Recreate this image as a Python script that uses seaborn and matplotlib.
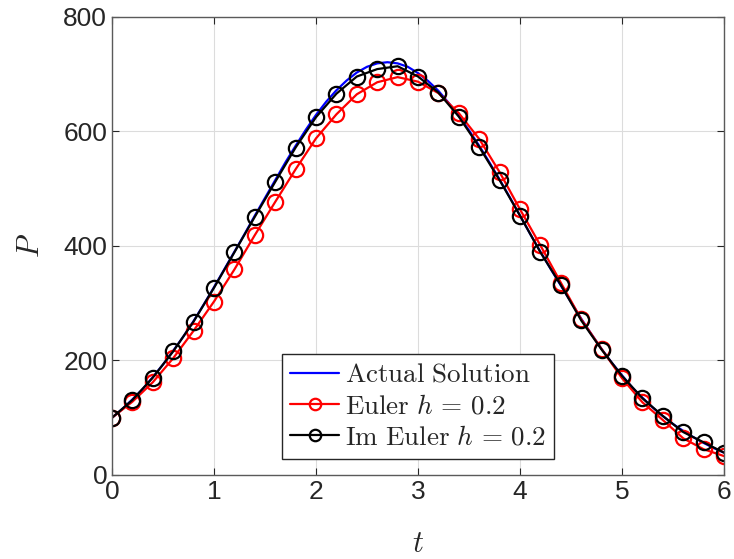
import numpy as np
import pandas as pd
import matplotlib
matplotlib.use("Agg")
import matplotlib.pyplot as plt
import seaborn as sns

# Actual solution
t_actual = [0.0, 0.1, 0.2, 0.3, 0.4, 0.5, 0.6, 0.7, 0.8, 0.9, 1.0, 1.1, 1.2, 1.3, 1.4, 1.5,
            1.6, 1.7, 1.8, 1.9, 2.0, 2.1, 2.2, 2.3, 2.4, 2.5, 2.6, 2.7, 2.8, 2.9, 3.0, 3.1,
            3.2, 3.3, 3.4, 3.5, 3.6, 3.7, 3.8, 3.9, 4.0, 4.1, 4.2, 4.3, 4.4, 4.5, 4.6, 4.7,
            4.8, 4.9, 5.0, 5.1, 5.2, 5.3, 5.4, 5.5, 5.6, 5.7, 5.8, 5.9, 6.0]
p_actual = [100, 115, 132, 150, 171, 193, 217, 242, 269, 298, 328, 359, 390, 421, 453, 484,
            515, 546, 575, 603, 629, 652, 672, 689, 703, 713, 719, 721, 719, 713, 702, 688,
            671, 650, 627, 602, 575, 546, 516, 485, 453, 421, 390, 360, 331, 302, 273, 246,
            220, 196, 174, 153, 135, 118, 103, 89, 77, 66, 56, 47, 39]

# Step points h = 0.2
t_steps = [0.0, 0.2, 0.4, 0.6, 0.8, 1.0, 1.2, 1.4, 1.6, 1.8, 2.0, 2.2, 2.4, 2.6, 2.8, 3.0,
           3.2, 3.4, 3.6, 3.8, 4.0, 4.2, 4.4, 4.6, 4.8, 5.0, 5.2, 5.4, 5.6, 5.8, 6.0]
p_euler = [100, 128, 162, 204, 252, 303, 359, 419, 477, 534, 588, 630, 665, 686, 695, 687,
           667, 632, 587, 529, 464, 401, 336, 272, 220, 169, 127, 96, 64, 45, 33]
p_im_euler = [100, 131, 170, 216, 268, 327, 389, 451, 512, 572, 625, 666, 696, 709, 714, 696,
              668, 626, 573, 515, 453, 389, 332, 270, 219, 173, 134, 103, 75, 57, 39]

x_ticks = [0, 1, 2, 3, 4, 5, 6]
y_ticks = [0, 200, 400, 600, 800]

sns.set_theme(style="white")
plt.rcParams["font.family"] = ["Liberation Sans", "DejaVu Sans"]
plt.rcParams["mathtext.fontset"] = "cm"

fig = plt.figure(figsize=(7.34, 5.59), dpi=100)
ax = fig.add_axes([0.1526, 0.1503, 0.8338, 0.8193])

df_a = pd.DataFrame({"t": t_actual, "P": p_actual})
df_e = pd.DataFrame({"t": t_steps, "P": p_euler})
df_i = pd.DataFrame({"t": t_steps, "P": p_im_euler})

sns.lineplot(data=df_a, x="t", y="P", ax=ax, color="#0000ff", lw=1.6,
             label=r"$\mathrm{Actual\ Solution}$", estimator=None, sort=False)
sns.lineplot(data=df_e, x="t", y="P", ax=ax, color="#ff0000", lw=1.6, marker="o",
             markersize=11, markerfacecolor="none", markeredgecolor="#ff0000",
             markeredgewidth=1.6, label=r"$\mathrm{Euler}\ h\,=\,0.2$",
             estimator=None, sort=False)
sns.lineplot(data=df_i, x="t", y="P", ax=ax, color="#000000", lw=1.6, marker="o",
             markersize=11, markerfacecolor="none", markeredgecolor="#000000",
             markeredgewidth=1.6, label=r"$\mathrm{Im\ Euler}\ h\,=\,0.2$",
             estimator=None, sort=False)

ax.set_xlim(0, 6)
ax.set_ylim(0, 800)
ax.set_xticks(x_ticks)
ax.set_yticks(y_ticks)
ax.grid(True, color="#dcdcdc", lw=0.8)
ax.set_axisbelow(True)
for s in ax.spines.values():
    s.set_visible(True)
    s.set_color("#5a5a5a")
    s.set_linewidth(1.0)
ax.tick_params(axis="both", which="both", direction="in", length=5, width=0.8,
               colors="#262626", labelsize=19, top=True, right=True, bottom=True, left=True)
for lab in ax.get_xticklabels() + ax.get_yticklabels():
    lab.set_color("#262626")

ax.set_xlabel(r"$t$", fontsize=22, color="#262626", labelpad=18)
ax.set_ylabel(r"$P$", fontsize=22, color="#262626", labelpad=12)

leg = ax.legend(loc="lower center", bbox_to_anchor=(0.5, 0.035), fontsize=19.5,
                frameon=True, fancybox=False, edgecolor="#262626", framealpha=1,
                handlelength=1.8, handletextpad=0.2, borderpad=0.3, labelspacing=0.2,
                borderaxespad=0, markerscale=0.75)
leg.get_frame().set_linewidth(1.0)

fig.savefig("out.png", dpi=100)
